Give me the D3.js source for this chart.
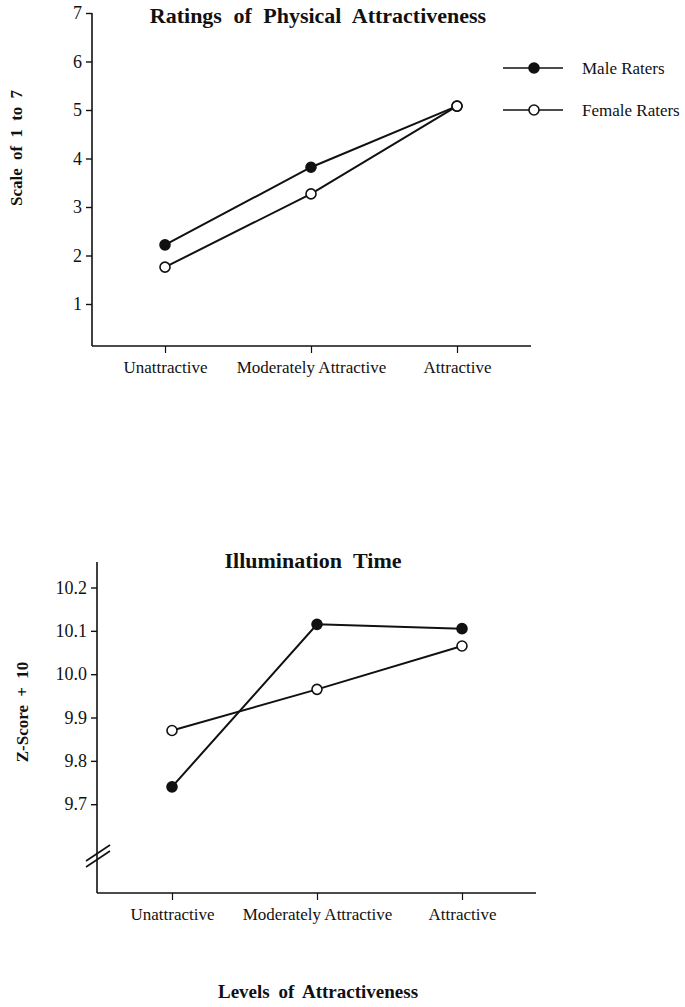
<!DOCTYPE html>
<html>
<head>
<meta charset="utf-8">
<script src="https://cdn.jsdelivr.net/npm/d3@7"></script>
<style>
	body { margin: 0; background: #fff; }
	text { font-family: "Liberation Serif", "Times New Roman", serif; fill: #111; }
</style>
</head>
<body>
<div id="chart"></div>
<script>
const levels = ["Unattractive", "Moderately Attractive", "Attractive"];
const seriesNames = ["Male Raters", "Female Raters"];

const ratingsMale = [2.22, 3.82, 5.08];
const ratingsFemale = [1.76, 3.27, 5.08];
const ratingsTicks = [1, 2, 3, 4, 5, 6, 7];

const illumMale = [9.74, 10.115, 10.105];
const illumFemale = [9.87, 9.965, 10.065];
const illumTicks = [9.7, 9.8, 9.9, 10.0, 10.1, 10.2];

const width = 685;
const height = 1007;
const markerR = 5;

let gSvg = d3
	.select("#chart")
	.append("svg")
	.attr("width", width)
	.attr("height", height);

function drawPanel(p) {
	const g = gSvg.append("g");
	const x = d3.scalePoint().domain(levels).range(p.xRange).padding(0);
	const y = d3.scaleLinear().domain(p.yDomain).range(p.yRange);

	// axis lines
	g.append("line")
		.attr("x1", p.axisX).attr("x2", p.axisX)
		.attr("y1", p.axisTop).attr("y2", p.axisBottom)
		.attr("stroke", "#111").attr("stroke-width", 1.6);
	g.append("line")
		.attr("x1", p.axisX).attr("x2", p.axisRight)
		.attr("y1", p.axisBottom).attr("y2", p.axisBottom)
		.attr("stroke", "#111").attr("stroke-width", 1.6);

	const yAxis = g.append("g")
		.attr("transform", `translate(${p.axisX},0)`)
		.call(d3.axisLeft(y).tickValues(p.ticks).tickFormat(p.fmt).tickSize(6).tickSizeOuter(0).tickPadding(4));
	yAxis.select(".domain").remove();
	yAxis.selectAll("line").attr("stroke", "#111").attr("stroke-width", 1.4);
	yAxis.selectAll("text").style("font-size", "18px").attr("fill", "#111");

	const xAxis = g.append("g")
		.attr("transform", `translate(0,${p.axisBottom})`)
		.call(d3.axisBottom(x).tickSize(7).tickSizeOuter(0).tickPadding(8));
	xAxis.select(".domain").remove();
	xAxis.selectAll("line").attr("stroke", "#111").attr("stroke-width", 1.2);
	xAxis.selectAll("text").style("font-size", "17px").attr("fill", "#111");

	// titles
	g.append("text")
		.attr("x", p.titleX).attr("y", p.titleY)
		.attr("text-anchor", "middle")
		.style("font-size", "22px").style("font-weight", "bold").style("word-spacing", "6px")
		.text(p.title);
	g.append("text")
		.attr("transform", `translate(${p.yLabelX},${p.yLabelY}) rotate(-90)`)
		.attr("text-anchor", "middle")
		.style("font-size", "17px").style("font-weight", "bold").style("word-spacing", "4px")
		.text(p.yLabel);

	const line = d3.line().x((d, i) => x(levels[i])).y((d) => y(d));
	[p.male, p.female].forEach((vals, k) => {
		g.append("path")
			.datum(vals)
			.attr("d", line)
			.attr("fill", "none")
			.attr("stroke", "#111")
			.attr("stroke-width", 2);
		g.selectAll(`.m${k}`)
			.data(vals)
			.enter()
			.append("circle")
			.attr("cx", (d, i) => x(levels[i]))
			.attr("cy", (d) => y(d))
			.attr("r", markerR)
			.attr("fill", k === 0 ? "#111" : "#fff")
			.attr("stroke", "#111")
			.attr("stroke-width", 1.6);
	});
	return g;
}

drawPanel({
	title: "Ratings of Physical Attractiveness",
	titleX: 318, titleY: 23,
	yLabel: "Scale of 1 to 7",
	yLabelX: 22, yLabelY: 148,
	xRange: [165, 457],
	yDomain: [1, 7], yRange: [304, 13],
	axisX: 92, axisTop: 13, axisBottom: 346, axisRight: 531,
	ticks: ratingsTicks, fmt: d3.format("d"),
	male: ratingsMale, female: ratingsFemale
});

const bottom = drawPanel({
	title: "Illumination Time",
	titleX: 313, titleY: 568,
	yLabel: "Z-Score + 10",
	yLabelX: 28, yLabelY: 712,
	xRange: [172, 462],
	yDomain: [9.7, 10.2], yRange: [804.2, 587.5],
	axisX: 97, axisTop: 562, axisBottom: 893, axisRight: 536,
	ticks: illumTicks, fmt: d3.format(".1f"),
	male: illumMale, female: illumFemale
});

// axis break mark
[0, 6].forEach((off) => {
	bottom.append("line")
		.attr("x1", 86).attr("y1", 861 + off)
		.attr("x2", 110).attr("y2", 845 + off)
		.attr("stroke", "#111").attr("stroke-width", 1.6);
});

// legend
const legend = gSvg.selectAll(".legend")
	.data(seriesNames)
	.enter()
	.append("g")
	.attr("class", "legend")
	.attr("transform", (d, i) => `translate(503,${68 + i * 42})`);
legend.append("line")
	.attr("x1", 0).attr("x2", 60)
	.attr("stroke", "#111").attr("stroke-width", 1.6);
legend.append("circle")
	.attr("cx", 31).attr("r", markerR)
	.attr("fill", (d, i) => (i === 0 ? "#111" : "#fff"))
	.attr("stroke", "#111").attr("stroke-width", 1.6);
legend.append("text")
	.attr("x", 79).attr("y", 6)
	.style("font-size", "17px")
	.text((d) => d);

gSvg.append("text")
	.attr("x", 318).attr("y", 998)
	.attr("text-anchor", "middle")
	.style("font-size", "19px").style("font-weight", "bold").style("word-spacing", "4px")
	.text("Levels of Attractiveness");
</script>
</body>
</html>
